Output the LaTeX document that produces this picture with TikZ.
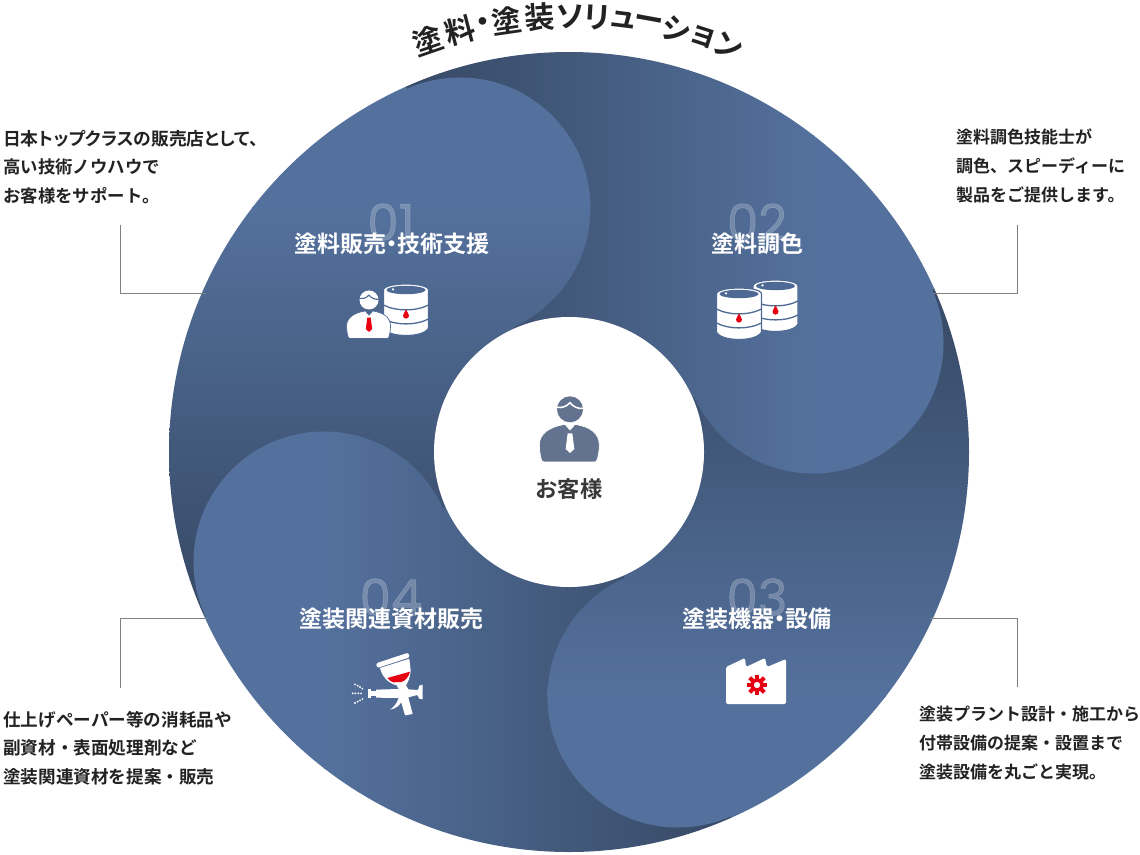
\documentclass[tikz,border=0pt]{standalone}
\usepackage{fontspec}
\newfontfamily\jpb{Noto Sans CJK JP Bold}
\newfontfamily\jpp[RawFeature={+palt}]{Noto Sans CJK JP Bold}
\newfontfamily\numf[FakeBold=1]{Poppins}
\definecolor{bladelight}{HTML}{54719D}
\definecolor{bladedark}{HTML}{394C69}
\definecolor{inkc}{HTML}{222222}
\definecolor{custc}{HTML}{63738F}
\definecolor{iconbg}{HTML}{4E6A94}
\definecolor{dropred}{HTML}{E60012}
\newcommand{\paintV}[2]{% #1 top colour #2 bottom colour, edges fixed by \ya \yb
  \fill[#1] (-200,-300) rectangle (1300,\ya+1);
  \fill[#2] (-200,\yb-1) rectangle (1300,1200);
  \shade[top color=#1,bottom color=#2] (-200,\ya) rectangle (1300,\yb);}
\newcommand{\paintH}[2]{% #1 left colour #2 right colour, edges fixed by \xa \xb
  \fill[#1] (-200,-300) rectangle (\xa+1,1200);
  \fill[#2] (\xb-1,-300) rectangle (1300,1200);
  \shade[left color=#1,right color=#2] (\xa,-300) rectangle (\xb,1200);}
\newcommand{\bladeone}{\def\ya{207}\def\yb{580}\paintV{bladelight}{bladedark}}
\newcommand{\bladetwo}{\def\xa{439}\def\xb{814}\paintH{bladedark}{bladelight}}
\newcommand{\bladethree}{\def\ya{322}\def\yb{697}\paintV{bladedark}{bladelight}}
\newcommand{\bladefour}{\def\xa{324}\def\xb{699}\paintH{bladelight}{bladedark}}
% barrel: top ellipse centre at #1,#2
\newcommand{\barrelicon}[2]{%
  \begin{scope}[shift={(#1,#2)}]
    \path[draw=iconbg,line width=1.2pt,fill=white]
      (-22.5,0) .. controls (-22.5,-8) and (22.5,-8) .. (22.5,0)
      -- (22.5,38) .. controls (18,48) and (-18,48) .. (-22.5,38) -- cycle;
    \fill[iconbg] (0,0) ellipse[x radius=19.5,y radius=4.2];
    \fill[white] (-13,-0.6) circle (1.3);
    \draw[iconbg,line width=1.3pt] (-22.5,15) .. controls (-10,21.5) and (10,21.5) .. (22.5,15);
    \draw[iconbg,line width=1.3pt] (-22.5,29) .. controls (-10,35.5) and (10,35.5) .. (22.5,29);
    \fill[dropred] (0,19.5) .. controls (1,22.5) and (3,23.5) .. (3,25.6)
      .. controls (3,29.6) and (-3,29.6) .. (-3,25.6) .. controls (-3,23.5) and (-1,22.5) .. (0,19.5) -- cycle;
  \end{scope}}
% person: drawn in the 3x units of the zoomed icon
\newcommand{\personicon}[6]{% shift x,y,scale,fill,detail,tie
  \begin{scope}[shift={(#1,#2)},scale=#3]
    \path[fill=#4,draw=#5,line width=.7pt]
      (88,195) .. controls (88,160) and (120,140) .. (165,133) -- (180,150) -- (195,133)
      .. controls (240,140) and (268,160) .. (268,195)
      .. controls (268,215) and (264,230) .. (262,238) .. controls (261,244) and (258,246) .. (252,246)
      -- (104,246) .. controls (98,246) and (95,244) .. (94,238) .. controls (92,230) and (88,215) .. (88,195) -- cycle;
    \fill[#6] (173,160) -- (187,160) -- (193,207) -- (180,219) -- (167,207) -- cycle;
    \fill[#4] (180,88) circle (39);
    \draw[#5,line width=#3*4.6pt] (141,82) .. controls (155,84) and (168,81) .. (180,68)
      .. controls (190,81) and (205,87) .. (219,85);
  \end{scope}}
\begin{document}
\begin{tikzpicture}[x=1pt,y=-1pt,
  bodytext/.style={anchor=west,align=left,inner sep=0pt,text=inkc,font=\jpb\fontsize{17}{28.6}\selectfont},
  bladelabel/.style={inner sep=0pt,text=white,font=\jpp\fontsize{23}{26}\selectfont},
  numlabel/.style={inner sep=0pt,text=white,text opacity=.22,font=\numf\fontsize{50}{52}\selectfont},
  leader/.style={draw=black!50,line width=1pt},
  titlechar/.style={inner sep=0pt,text=inkc,font=\jpb\fontsize{30}{32}\selectfont}]
\useasboundingbox (0,0) rectangle (1140,854);
\fill[white] (0,0) rectangle (1140,854);

% leaders
\coordinate (la) at (120,225); \coordinate (lb) at (120,293); \coordinate (lc) at (206,293);
\coordinate (ra) at (1017,225); \coordinate (rb) at (1017,293); \coordinate (rc) at (933,293);
\coordinate (ma) at (120,688); \coordinate (mb) at (120,618); \coordinate (mc) at (208,618);
\coordinate (na) at (1017,687); \coordinate (nb) at (1017,618); \coordinate (nc) at (930,618);

% pinwheel
\begin{scope}
  \clip (569,452) circle (400);
  \begin{scope}\clip (569,452) -- (79,672) -- (-139,184) -- (351,-36) -- cycle; \bladeone\end{scope}
  \begin{scope}\clip (569,452) -- (351,-36) -- (839,-254) -- (1057,234) -- cycle; \bladetwo\end{scope}
  \begin{scope}\clip (569,452) -- (1057,234) -- (1275,724) -- (787,942) -- cycle; \bladethree\end{scope}
  \begin{scope}\clip (569,452) -- (787,942) -- (297,1162) -- (79,672) -- cycle; \bladefour\end{scope}
  \begin{scope}\clip (460,208) circle (130.5); \bladeone\end{scope}
  \begin{scope}\clip (813,343) circle (130.5); \bladetwo\end{scope}
  \begin{scope}\clip (678,697) circle (130.5); \bladethree\end{scope}
  \begin{scope}\clip (324,562) circle (130.5); \bladefour\end{scope}
\end{scope}
\draw[leader] (la) -- (lb) -- (lc);
\draw[leader] (ra) -- (rb) -- (rc);
\draw[leader] (ma) -- (mb) -- (mc);
\draw[leader] (na) -- (nb) -- (nc);
\node[circle,fill=white,inner sep=0pt,minimum size=270pt] (hub) at (569,452) {};

% centre
\personicon{510}{380}{0.3333}{custc}{white}{white}
\node[inner sep=0pt,text=inkc!90,font=\jpb\fontsize{22.3}{25}\selectfont] (customer) at (569,489) {お客様};

% title on an arc
\foreach \ch/\x [count=\i] in {塗/428,料/460,・/484,塗/507,装/540,ソ/570,リ/597,ュ/623,ー/648,シ/677,ョ/703,ン/728}{
  \pgfmathsetmacro\ang{asin((\x-570)/435)}
  \pgfmathsetmacro\yy{451.5-435*cos(\ang)}
  \node[titlechar,rotate=-\ang] (title\i) at (\x,\yy) {\ch};
}

% numbers and labels
\node[numlabel] (n1) at (391,222) {01};
\node[numlabel] (n2) at (757,222) {02};
\node[numlabel] (n3) at (757,597) {03};
\node[numlabel] (n4) at (391,597) {04};
\node[bladelabel] (b1) at (392,244) {塗料販売・技術支援};
\node[bladelabel] (b2) at (757,244) {塗料調色};
\node[bladelabel] (b3) at (757,619) {塗装機器・設備};
\node[bladelabel] (b4) at (391,619) {塗装関連資材販売};

% descriptions
\node[bodytext,font=\jpb\fontsize{17.4}{28.6}\selectfont] (d1) at (3,167) {{\jpp\fontsize{17.8}{28.6}\selectfont 日本トップクラスの販売店として、}\\高い技術ノウハウで\\お客様をサポート。};
\node[bodytext] (d2) at (956,166) {塗料調色技能士が\\調色、スピーディーに\\製品をご提供します。};
\node[bodytext] (d3) at (919,743) {塗装プラント設計・施工から\\付帯設備の提案・設置まで\\塗装設備を丸ごと実現。};
\node[bodytext,font=\jpb\fontsize{17.6}{28.6}\selectfont] (d4) at (3,748) {仕上げペーパー等の消耗品や\\副資材・表面処理剤など\\塗装関連資材を提案・販売};

% icon 01
\barrelicon{406}{290}
\personicon{325.1}{278.5}{0.244}{white}{iconbg}{dropred}

% icon 02
\barrelicon{775.5}{286}
\barrelicon{739}{294}

% icon 03 factory
\path[fill=white,rounded corners=1.5pt] (726,667) -- (745,658) -- (746,667) -- (765,658) -- (767,667) -- (786,659) -- (786,704) -- (726,704) -- cycle;
\begin{scope}[shift={(757,685)}]
  \foreach \a in {0,45,...,315}{
    \fill[dropred,rotate=\a] (-2,-6) rectangle (2,-10.3);
  }
  \draw[dropred,line width=3.6pt] (0,0) circle (5.2);
\end{scope}

% icon 04 spray gun
\begin{scope}[shift={(340,640)},scale=0.3333]
  \fill[white,rounded corners=1.5pt] (108,70) -- (205,38) -- (209,52) -- (112,84) -- cycle;
  \fill[white] (120,84) -- (208,56) -- (212,92) .. controls (210,115) and (204,126) .. (198,136)
     -- (205,148) -- (234,150) -- (238,137) -- (248,134) -- (248,178) -- (238,176) -- (232,165)
     -- (205,172) -- (218,222) -- (195,226) -- (180,174) -- (108,173) -- (108,149) -- (176,147)
     -- (170,136) .. controls (145,130) and (126,110) .. (120,84) -- cycle;
  \fill[white] (92,154) rectangle (110,167);
  \fill[white] (85,147) rectangle (92,173);
  \fill[white] (176,174) .. controls (170,192) and (160,202) .. (150,209) .. controls (168,206) and (182,196) .. (189,176) -- cycle;
  \fill[dropred] (142,114) -- (210,95) .. controls (206,112) and (196,122) .. (184,126) -- (160,127) .. controls (152,124) and (146,120) .. (142,114) -- cycle;
  \foreach \p in {(45,133),(53,137),(60,141),(67,146),(38,160),(46,160),(55,160),(63,160),(45,189),(53,185),(60,181),(67,177)}{
    \fill[white] \p circle (3.2);
  }
\end{scope}
\end{tikzpicture}
\end{document}
